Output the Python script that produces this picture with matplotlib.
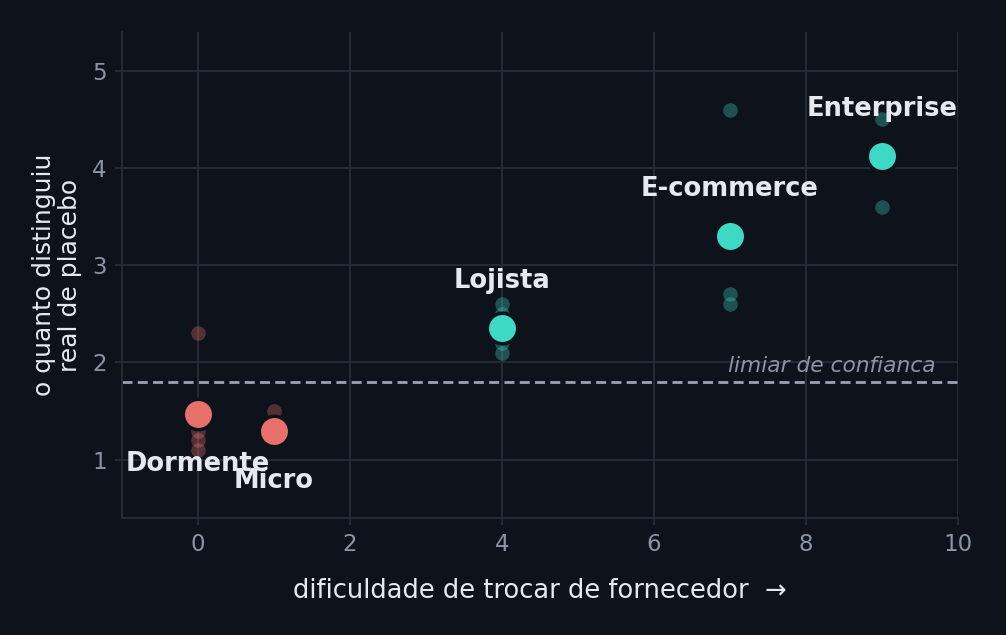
import matplotlib
matplotlib.use("Agg")
import matplotlib.pyplot as plt
import numpy as np

# Data
segments = ["Dormente", "Micro", "Lojista", "E-commerce", "Enterprise"]
seg_x = [0, 1, 4, 7, 9]
seg_points = [
    [2.3, 1.3, 1.2, 1.1],
    [1.5, 1.25, 1.2, 1.25],
    [2.6, 2.5, 2.2, 2.1],
    [4.6, 2.7, 2.6],
    [4.5, 3.6, 4.2, 4.2],
]
threshold = 1.8
threshold_label = "limiar de confianca"
xlabel = "dificuldade de trocar de fornecedor  \u2192"
ylabel = "o quanto distinguiu\nreal de placebo"

BG = "#0e131b"
GRID = "#262d38"
TICK = "#8a94a4"
TEXT = "#e6eaf0"
TEAL = "#3dd9c4"
CORAL = "#e8706a"

fig = plt.figure(figsize=(10.06, 6.35), dpi=100, facecolor=BG)
ax = fig.add_axes([122/1006, 1-518/635, (958-122)/1006, (518-32)/635])
ax.set_facecolor(BG)

means = [np.mean(p) for p in seg_points]
for name, x, pts, m in zip(segments, seg_x, seg_points, means):
    col = TEAL if m >= threshold else CORAL
    ax.scatter([x]*len(pts), pts, s=110, color=col, alpha=0.32, linewidths=0, zorder=3)
for name, x, pts, m in zip(segments, seg_x, seg_points, means):
    col = TEAL if m >= threshold else CORAL
    ax.scatter([x], [m], s=480, color=col, edgecolors=BG, linewidths=2.5, zorder=4)
    off = 34 if m >= threshold else -36
    ax.annotate(name, (x, m), xytext=(0, off), textcoords="offset points",
                ha="center", va="center", fontsize=18.5, fontweight="bold",
                color=TEXT, zorder=5)

ax.axhline(threshold, color="#9aa4b2", lw=2.0, dashes=(3.6, 1.9), zorder=2)
ax.text(9.7, threshold + 0.06, threshold_label, ha="right", va="bottom",
        fontsize=15.7, style="italic", color=TICK, zorder=5)

ax.set_xlim(-1, 10)
ax.set_ylim(0.4, 5.4)
ax.set_xticks([0, 2, 4, 6, 8, 10])
ax.set_yticks([1, 2, 3, 4, 5])
ax.grid(True, color=GRID, lw=1.3, zorder=0)
ax.set_axisbelow(True)
for s in ["top", "right"]:
    ax.spines[s].set_visible(False)
for s in ["left", "bottom"]:
    ax.spines[s].set_color(GRID)
    ax.spines[s].set_linewidth(1.3)
ax.tick_params(colors=GRID, labelcolor=TICK, labelsize=16.5, length=5, width=1.3, pad=6)
ax.set_xlabel(xlabel, fontsize=18.5, color=TEXT, labelpad=16)
ax.set_ylabel(ylabel, fontsize=18, color=TEXT, labelpad=7, linespacing=1.1)

fig.savefig("out.png", dpi=100, facecolor=BG)
